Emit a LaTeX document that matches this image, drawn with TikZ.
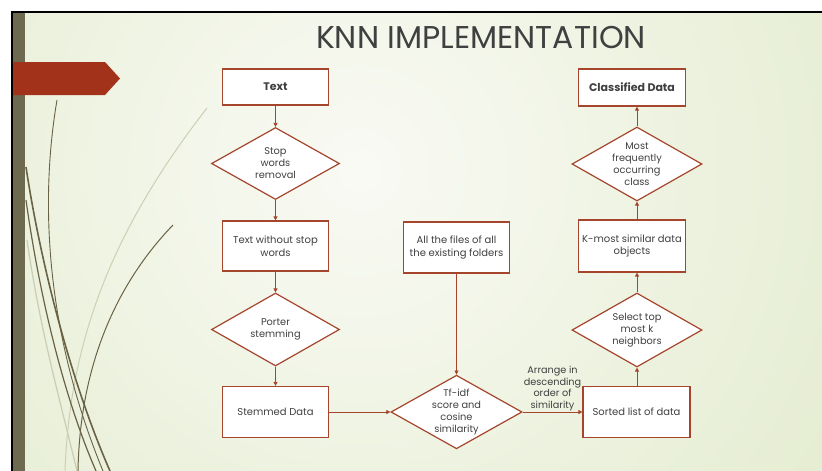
\documentclass[tikz,border=0pt]{standalone}
\usepackage{fontspec}
\setmainfont{Poppins}
\usetikzlibrary{shapes.geometric,arrows.meta}
\definecolor{edge}{HTML}{A4452C}
\definecolor{txt}{HTML}{404040}
\definecolor{bgout}{HTML}{DCE7C2}
\definecolor{bgin}{HTML}{F9FAF4}
\definecolor{banner}{HTML}{A3321A}
\definecolor{bar}{HTML}{6E6A4F}
\definecolor{grass}{HTML}{6A6245}
\definecolor{grassfaint}{HTML}{CBD0B5}
\begin{document}
\begin{tikzpicture}[x=1pt,y=-1pt,
  box/.style={draw=edge,line width=1.2pt,fill=white,minimum width=106pt,inner sep=2pt,align=center,text=txt,font=\fontsize{10}{12.5}\selectfont},
  dia/.style={diamond,aspect=1.78,draw=edge,line width=1.2pt,fill=white,minimum width=128pt,minimum height=72pt,inner sep=0pt,align=center,text=txt,font=\fontsize{9.8}{12}\selectfont},
  arr/.style={draw=edge,line width=0.8pt,-{Triangle[length=4pt,width=4pt]}},
  lbl/.style={text=txt,align=center,inner sep=1pt,font=\fontsize{9.7}{11.5}\selectfont},
  boldtxt/.style={font=\bfseries\fontsize{11}{13}\selectfont}]
\useasboundingbox (0,0) rectangle (822,471);
% background
\fill[white] (0,0) rectangle (822,471);
\fill[bgout] (13,13) rectangle (822,471);
\begin{scope}
  \clip (13,13) rectangle (822,471);
  \shade[inner color=bgin, outer color=bgout] (360,170) circle (800pt);
\end{scope}
\draw[black, line width=1.3pt] (12,471) -- (12,12) -- (822,12);
\fill[bar] (13,13) rectangle (25,471);
\fill[banner] (13,62) -- (105,62) -- (120,78.5) -- (105,95) -- (13,95) -- cycle;
% decorative blades
\draw[grassfaint, line width=1pt] (207,108) .. controls (120,220) and (70,330) .. (65,471);
\draw[grassfaint, line width=1.3pt] (27,240) .. controls (40,330) and (60,400) .. (77,471);
\draw[grass, line width=0.9pt] (57,100) .. controls (40,200) and (45,330) .. (103,471);
\draw[grass, line width=1.6pt] (26,167) .. controls (40,260) and (70,380) .. (110,471);
\draw[grass, line width=1.2pt] (26,200) .. controls (40,300) and (65,400) .. (96,471);
\draw[grass, line width=1pt] (173,225) .. controls (120,280) and (80,360) .. (78,471);
% title
\node[text=txt, font=\fontsize{31.5}{34}\selectfont] (title) at (481,38) {KNN IMPLEMENTATION};
% left column
\node[box,boldtxt,minimum height=36pt] (text) at (275.5,87) {Text};
\node[dia] (stop) at (275.5,163.5) {Stop\\words\\removal};
\node[box,minimum height=50pt] (nostop) at (275.5,246) {Text without stop\\words};
\node[dia,minimum height=73pt] (porter) at (275.5,329.5) {Porter\\stemming};
\node[box,minimum height=51pt] (stem) at (275.5,412) {Stemmed Data};
% middle column
\node[box,minimum height=51pt] (files) at (456.5,247.5) {All the files of all\\the existing folders};
\node[dia] (tfidf) at (456.5,412) {Tf-idf\\score and\\cosine\\similarity};
% right column
\node[box,minimum width=107pt,minimum height=51pt] (sorted) at (636.5,412) {Sorted list of data};
\node[dia,minimum width=130pt,minimum height=74pt] (select) at (637,330) {Select top\\most k\\neighbors};
\node[box,minimum width=107pt,minimum height=52pt] (kmost) at (632,246) {K-most similar data\\objects};
\node[dia,minimum width=130pt,minimum height=74pt] (freq) at (637,164) {Most\\frequently\\occurring\\class};
\node[box,boldtxt,minimum width=107pt,minimum height=37pt] (classified) at (632,87.5) {Classified Data};
% connectors
\draw[arr] (text) -- (stop);
\draw[arr] (stop) -- (nostop);
\draw[arr] (nostop) -- (porter);
\draw[arr] (porter) -- (stem);
\draw[arr] (stem) -- (tfidf);
\draw[arr] (files) -- (tfidf);
\draw[arr] (tfidf) -- node[lbl, above] {Arrange in\\descending\\order of\\similarity} (sorted);
\draw[arr] (sorted.north -| select.south) -- (select.south);
\draw[arr] (select.north) -- (select.north |- kmost.south);
\draw[arr] (freq.south |- kmost.north) -- (freq.south);
\draw[arr] (freq.north) -- (freq.north |- classified.south);
\end{tikzpicture}
\end{document}
